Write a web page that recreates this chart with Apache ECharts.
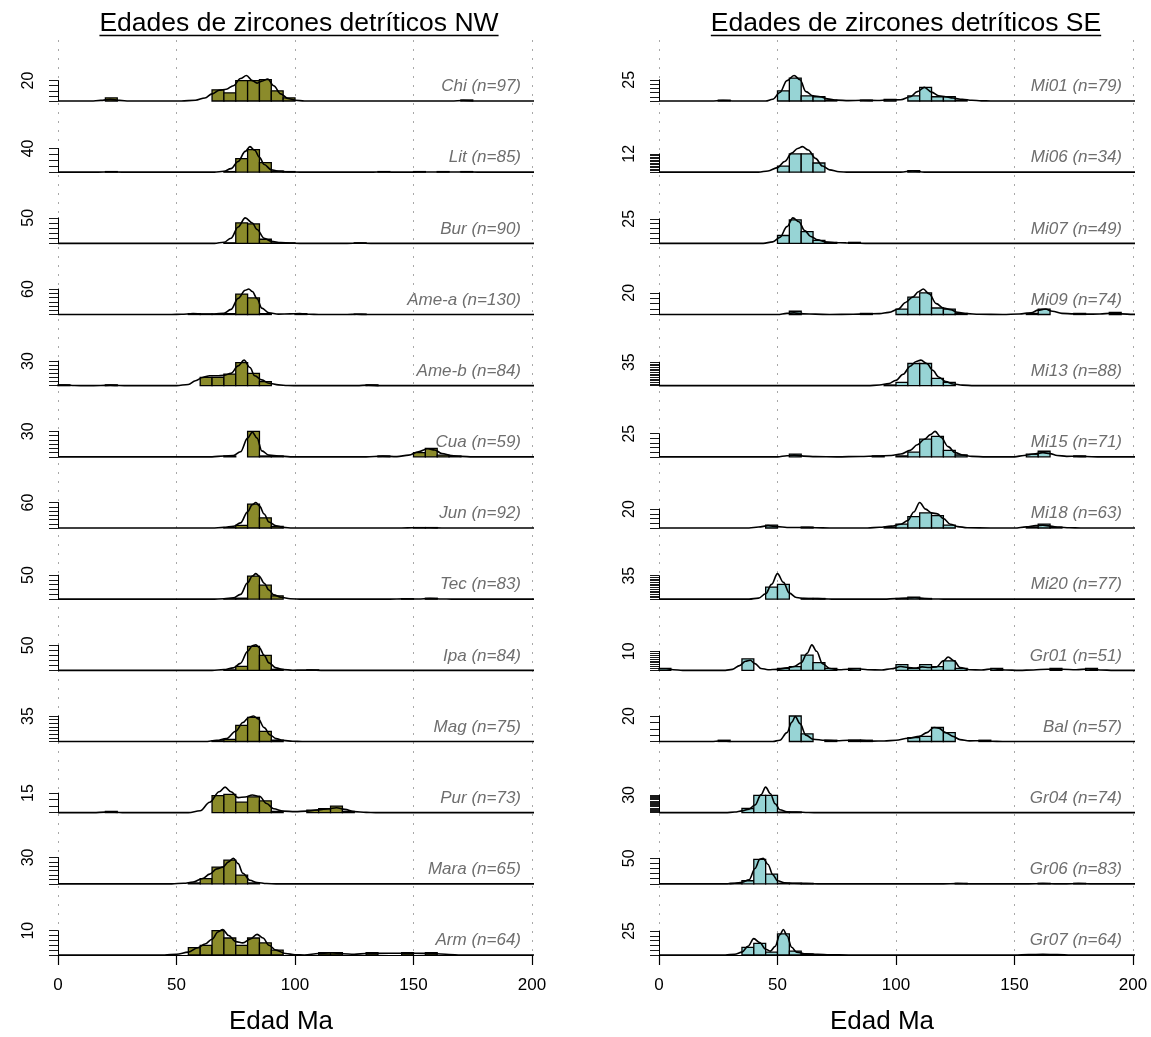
<!DOCTYPE html>
<html>
<head>
<meta charset="utf-8">
<script src="https://cdn.jsdelivr.net/npm/echarts@6/dist/echarts.min.js"></script>
<style>
  html, body { margin: 0; padding: 0; background: #fff; }
  #chart { width: 1151px; height: 1037px; }
</style>
</head>
<body>
<div id="chart"></div>
<script>
// ---- datos: [inicio del intervalo (Ma), nº de granos] y curva KDE [Ma, valor] ----
// NW
const chiBins = [[20,3],[65,11],[70,8],[75,20],[80,20],[85,21],[90,10],[95,3],[170,1]];
const chiKde = [[0,0],[14,0],[18,0.6],[22,1.6],[26,0.6],[30,0],[52,0],[58,0.8],[62,3],[65,7],[68,10.5],[71,11.5],[74,15],[77,22],[79.5,25],[82,20],[84,17.5],[86,19.5],[88.5,21.5],[91,15],[94,7],[97,2.5],[100,0.8],[104,0],[166,0],[171,0.5],[176,0],[205,0]];
const litBins = [[20,1],[70,1],[75,23],[80,38],[85,16],[90,2],[95,1],[135,1],[150,1],[160,1],[170,1]];
const litKde = [[0,0],[17,0],[22,0.5],[27,0],[66,0],[70,1.5],[73,6],[76,18],[79,35],[81,43],[83,37],[85,25],[87,13],[90,4],[93,1.5],[97,0.5],[102,0],[133,0],[137,0.5],[141,0],[150,0],[153,0.5],[157,0.3],[162,0.5],[166,0.2],[172,0.5],[177,0],[205,0]];
const burBins = [[70,1],[75,40],[80,38],[85,8],[90,1],[95,1],[125,1]];
const burKde = [[0,0],[66,0],[70,2],[73,10],[76,32],[79,50],[82,40],[84,27],[87,10],[90,4],[94,1.5],[98,0.3],[102,0],[122,0],[127,0.4],[132,0],[205,0]];
const ameaBins = [[55,2],[60,1],[65,1],[70,2],[75,48],[80,39],[85,2],[100,2],[125,1]];
const ameaKde = [[0,0],[48,0],[52,0.5],[57,2],[61,1],[66,1],[70,3],[73,12],[76,38],[79,57],[80.5,60],[82,54],[84,37],[86,15],[89,4],[93,1],[98,1.5],[102,2],[106,0.5],[110,0],[122,0],[126,0.7],[130,0],[205,0]];
const amebBins = [[0,1],[20,1],[60,10],[65,10],[70,14],[75,28],[80,15],[85,5],[130,1]];
const amebKde = [[0,0.7],[3,0.8],[7,0.2],[12,0],[18,0.2],[22,0.6],[26,0.2],[30,0],[50,0],[55,1.5],[58,6],[61,10],[64,12],[67,12],[70,12.5],[73,15],[76,24],[78.5,31],[81,22],[83,12],[86,7],[89,3],[93,1],[97,0.2],[102,0],[126,0],[131,0.6],[136,0],[205,0]];
const cuaBins = [[70,1],[80,30],[85,1],[90,1],[135,1],[150,5],[155,10],[160,2],[165,1]];
const cuaKde = [[0,0],[65,0],[70,1],[74,1.5],[77,6],[80,22],[82,29],[84,22],[86,7],[89,2],[93,1],[98,0],[130,0],[137,0.8],[143,0.3],[148,2],[152,6],[156,9.5],[159,8],[162,4],[166,1.5],[170,0.5],[175,0],[205,0]];
const junBins = [[70,1],[75,6],[80,56],[85,24],[90,4],[150,1],[155,1]];
const junKde = [[0,0],[65,0],[70,1.5],[74,4],[77,12],[80,38],[82,55],[83.5,60],[85,52],[87,33],[89,14],[92,5],[95,1.5],[99,0],[145,0],[150,0.6],[157,0.6],[162,0],[205,0]];
const tecBins = [[70,1],[75,2],[80,48],[85,29],[90,7],[145,1],[155,2]];
const tecKde = [[0,0],[65,0],[70,1],[74,3],[77,10],[80,34],[82,48],[83.5,53],[85,47],[87,33],[89,19],[91,9],[94,4],[98,1],[103,0],[140,0],[146,0.6],[152,0.4],[157,1.2],[162,0.4],[166,0],[205,0]];
const ipaBins = [[70,1],[75,8],[80,48],[85,30],[90,2],[105,1]];
const ipaKde = [[0,0],[65,0],[70,1.5],[74,5],[77,14],[80,38],[82,49],[83.5,51],[85,45],[87,30],[89,15],[92,5],[95,1.5],[99,0.3],[103,0.4],[107,0.6],[111,0],[205,0]];
const magBins = [[65,1],[70,3],[75,22],[80,33],[85,14],[90,2]];
const magKde = [[0,0],[62,0],[67,1.5],[71,4],[75,14],[78,26],[80.5,33],[82.5,35],[84.5,31],[87,19],[89.5,9],[92,4],[95,1.5],[99,0.3],[103,0],[205,0]];
const purBins = [[20,1],[65,13],[70,14],[75,8],[80,12],[85,9],[90,1],[105,2],[110,3],[115,5],[120,1]];
const purKde = [[0,0],[15,0],[20,0.4],[24,0.3],[28,0],[55,0],[60,1.5],[64,8],[68,16],[70.5,19.5],[73,16],[76,11.5],[79,12],[82,13.5],[85,12.5],[88,7],[91,3],[95,1.2],[100,0.8],[105,1.2],[110,2.2],[114,3],[117.5,3.8],[121,2.5],[125,0.8],[130,0.2],[134,0],[205,0]];
const maraBins = [[55,1],[60,6],[65,19],[70,27],[75,10],[80,1]];
const maraKde = [[0,0],[48,0],[53,0.6],[57,2],[61,6],[64,11],[67,17],[69.5,19],[72,25],[74,29],[76,23],[78,12],[81,4],[84,1.5],[88,0.3],[92,0],[205,0]];
const armBins = [[55,3],[60,4],[65,10],[70,7],[75,4],[80,7],[85,5],[90,2],[110,1],[115,1],[130,1],[145,1],[155,1]];
const armKde = [[0,0],[45,0],[50,0.3],[55,1.2],[59,3],[62,4.5],[65,6.5],[67.5,9.5],[69.5,10.5],[72,8],[75,5.5],[78,5],[81,6.5],[84,8.5],[86.5,7],[89,4],[92,2],[96,0.6],[100,0.1],[104,0],[110,0.6],[115,0.9],[120,0.5],[125,0.3],[130,0.6],[140,0.7],[150,0.7],[158,0.6],[165,0.2],[170,0],[205,0]];

// SE
const mi01Bins = [[25,1],[50,12],[55,27],[60,6],[65,5],[70,1],[85,1],[95,2],[105,6],[110,16],[115,5],[120,5],[125,1]];
const mi01Kde = [[0,0],[22,0],[27,0.5],[32,0],[45,0],[48,2],[51,10],[54,24],[57,30],[59.5,25],[62,11],[65,6],[68,5],[71,2.5],[75,1],[80,0.5],[86,0.8],[92,0.6],[97,1.2],[102,1.5],[106,5],[109,11],[112,16],[115,10.5],[118,6],[121,5],[124,3.5],[128,2],[132,0.8],[136,0.2],[140,0],[205,0]];
const mi06Bins = [[50,4],[55,12],[60,12],[65,6],[105,1]];
const mi06Kde = [[0,0],[42,0],[46,0.8],[50,3],[53,7],[56,12.5],[58.5,15.5],[60.5,16.7],[63,14.5],[66,9],[69,4],[72,1.5],[76,0.3],[80,0],[102,0],[107,0.8],[112,0],[205,0]];
const mi07Bins = [[50,8],[55,24],[60,12],[65,3],[70,1],[80,1]];
const mi07Kde = [[0,0],[44,0],[48,1.5],[51,6],[54,17],[56.5,26],[59,22],[61.5,13],[64,7],[67,3.5],[70,1.5],[74,0.6],[79,0.5],[83,0.3],[87,0],[205,0]];
const mi09Bins = [[55,3],[85,1],[100,5],[105,16],[110,20],[115,6],[120,5],[125,1],[155,1],[160,5],[175,1],[190,2]];
const mi09Kde = [[0,0],[50,0],[54,1],[57,1.5],[61,0.6],[66,0.3],[72,0],[82,0.2],[87,0.5],[93,0.8],[97,2],[101,5],[104,11],[107,16],[109.5,21],[111.5,23.5],[114,19],[117,10],[120,6],[123,4.5],[126,2],[130,0.8],[135,0.2],[145,0],[152,0.5],[157,1.5],[160,4],[163,5],[166,3],[170,1],[175,0.6],[180,0.3],[186,0.4],[191,1.2],[195,0.6],[200,0.1],[205,0]];
const mi13Bins = [[95,1],[100,5],[105,33],[110,33],[115,11],[120,5]];
const mi13Kde = [[0,0],[88,0],[93,1],[97,3],[100,8],[103,17],[106,29],[108.5,36],[110.5,38],[113,33],[115.5,23],[118,13],[121,6],[124,2.5],[128,0.8],[133,0],[205,0]];
const mi15Bins = [[55,3],[90,1],[100,1],[105,5],[110,19],[115,22],[120,7],[125,2],[155,3],[160,6],[175,1]];
const mi15Kde = [[0,0],[50,0],[54,1.2],[57,1.8],[61,0.8],[66,0.2],[75,0],[85,0.4],[92,0.8],[98,1.5],[102,3],[106,7],[109,13],[112,19],[114.5,24],[116.5,27.5],[119,21],[122,11],[125,4.5],[128,2],[132,0.5],[138,0],[150,0],[154,1.5],[158,3],[162,4.5],[165,3.5],[168,1.5],[172,0.5],[176,0.6],[180,0.3],[185,0],[205,0]];
const mi18Bins = [[45,3],[60,1],[95,1],[100,4],[105,12],[110,16],[115,13],[120,3],[155,1],[160,4],[165,1]];
const mi18Kde = [[0,0],[38,0],[42,1],[46,2.5],[50,1.5],[54,0.5],[60,0.6],[66,0.3],[72,0],[88,0],[93,0.8],[98,2],[102,4],[105,8],[107.5,17],[110,27],[112.5,20],[115,16],[117.5,15],[120,10],[123,4],[126,1.5],[130,0.3],[140,0],[150,0],[155,1.2],[159,2.5],[162,3],[165,2],[169,0.8],[173,0.2],[178,0],[205,0]];
const mi20Bins = [[45,18],[50,22],[60,1],[65,1],[100,1],[105,3],[110,1]];
const mi20Kde = [[0,0],[38,0],[42,1.5],[45,8],[47.5,22],[50,38],[52.5,25],[55,9],[58,2.5],[61,1.2],[65,1],[69,0.5],[74,0],[95,0],[100,0.8],[105,1.8],[108,2],[112,1],[116,0.3],[120,0],[205,0]];
const gr01Bins = [[0,1],[35,6],[50,1],[55,2],[60,8],[65,4],[70,1],[80,1],[100,3],[105,1],[110,3],[115,2],[120,5],[125,1],[140,1],[165,1],[180,1]];
const gr01Kde = [[0,0.8],[3,0.8],[6,0.3],[10,0],[28,0],[31,0.5],[34,2.5],[36.5,4.8],[38.5,5.3],[40.5,3.5],[43,1],[46,0.3],[50,0.5],[54,1.3],[57,2],[60,4],[62.5,9],[64.5,13.4],[66.5,10],[69,3.5],[72,1],[76,0.3],[80,0.6],[84,0.8],[88,0.3],[94,0.2],[98,0.8],[102,2],[105,1.5],[108,1.2],[111,1.8],[114,1.5],[117,1.8],[120,5],[122,7],[124.5,5],[127,1.5],[131,0.3],[136,0.2],[141,0.8],[146,0.2],[152,0],[158,0.2],[164,0.6],[170,0.6],[176,0.3],[181,0.7],[186,0.2],[192,0],[205,0]];
const balBins = [[25,1],[55,20],[60,6],[70,1],[80,1],[85,1],[105,3],[110,4],[115,11],[120,7],[135,1]];
const balKde = [[0,0],[22,0],[26,0.5],[31,0],[48,0],[51,1],[54,7],[56,15],[57.5,19.5],[59.5,14],[62,5],[65,1.8],[70,1],[75,0.6],[80,1],[85,0.9],[90,0.3],[95,0.4],[100,1],[105,2.5],[110,4],[113,7],[116,11],[118,10.5],[121,7],[124,4],[127,1.5],[131,0.5],[136,0.6],[140,0.2],[145,0],[205,0]];
const gr04Bins = [[35,7],[40,29],[45,29],[50,1],[55,1]];
const gr04Kde = [[0,0],[28,0],[32,1],[35,3],[38,6],[40.5,13],[43,30],[45,43],[47,32],[49,15],[51,5],[54,1.5],[58,1],[63,0.3],[68,0],[205,0]];
const gr06Bins = [[30,1],[35,6],[40,48],[45,19],[50,1],[55,1],[60,1],[125,1],[160,1],[175,1]];
const gr06Kde = [[0,0],[28,0],[32,1],[35,3],[38,8],[40.5,30],[42.5,48],[44,50],[46,38],[48,18],[50,6],[53,2],[57,1.2],[62,0.5],[67,0],[120,0],[126,0.5],[131,0],[156,0],[162,0.5],[167,0],[172,0],[177,0.5],[182,0],[205,0]];
const gr07Bins = [[35,8],[40,12],[45,3],[50,22],[55,4],[60,1]];
const gr07Kde = [[0,0],[28,0],[32,0.8],[35,3],[37.5,9],[40,17],[42.5,13],[45,6],[47,4],[49,9],[51,21],[52.5,26.5],[54,20],[56,8],[58,3],[62,1.2],[67,0.6],[72,0.2],[80,0],[150,0],[156,0.4],[162,0.7],[168,0.4],[174,0],[205,0]];

// etiquetas, máximo rotulado del eje y y separación de marcas
const nwNames = ['Chi (n=97)','Lit (n=85)','Bur (n=90)','Ame-a (n=130)','Ame-b (n=84)','Cua (n=59)','Jun (n=92)','Tec (n=83)','Ipa (n=84)','Mag (n=75)','Pur (n=73)','Mara (n=65)','Arm (n=64)'];
const nwTops = [20, 40, 50, 60, 30, 30, 60, 50, 50, 35, 15, 30, 10];
const nwSteps = [5, 10, 10, 10, 5, 5, 10, 10, 10, 5, 5, 5, 2];
const nwBins = [chiBins, litBins, burBins, ameaBins, amebBins, cuaBins, junBins, tecBins, ipaBins, magBins, purBins, maraBins, armBins];
const nwKde = [chiKde, litKde, burKde, ameaKde, amebKde, cuaKde, junKde, tecKde, ipaKde, magKde, purKde, maraKde, armKde];

const seNames = ['Mi01 (n=79)','Mi06 (n=34)','Mi07 (n=49)','Mi09 (n=74)','Mi13 (n=88)','Mi15 (n=71)','Mi18 (n=63)','Mi20 (n=77)','Gr01 (n=51)','Bal (n=57)','Gr04 (n=74)','Gr06 (n=83)','Gr07 (n=64)'];
const seTops = [25, 12, 25, 20, 35, 25, 20, 35, 10, 20, 30, 50, 25];
const seSteps = [5, 1, 5, 5, 2.5, 5, 5, 2.5, 1, 5, 2, 10, 5];
const seBins = [mi01Bins, mi06Bins, mi07Bins, mi09Bins, mi13Bins, mi15Bins, mi18Bins, mi20Bins, gr01Bins, balBins, gr04Bins, gr06Bins, gr07Bins];
const seKde = [mi01Kde, mi06Kde, mi07Kde, mi09Kde, mi13Kde, mi15Kde, mi18Kde, mi20Kde, gr01Kde, balKde, gr04Kde, gr06Kde, gr07Kde];

const xTicks = [0, 50, 100, 150, 200];

// ---- disposición ----
const FONT = '"Liberation Sans", Arial, Helvetica, sans-serif';
const BIN = 5;
const W = 474;                 // ancho de 0 a 200 Ma
const YGAP = 19;               // el eje y queda a la izquierda del 0
const XMIN = -YGAP * 200 / W;
const ROW0 = 101, ROWSTEP = (955 - 101) / 12;
const PEAK = 25.5;             // altura en px del máximo de cada fila

const panels = [
  { left: 58, title: 'Edades de zircones detríticos NW', titleX: 299, nameX: 281,
    names: nwNames, tops: nwTops, steps: nwSteps, bins: nwBins, kde: nwKde, color: '#8b8b2b' },
  { left: 659, title: 'Edades de zircones detríticos SE', titleX: 906, nameX: 882,
    names: seNames, tops: seTops, steps: seSteps, bins: seBins, kde: seKde, color: '#97d4d5' }
];

const ctx = document.createElement('canvas').getContext('2d');
ctx.font = '26.5px ' + FONT;

const grid = [], xAxis = [], yAxis = [], series = [], graphic = [];

panels.forEach((P, p) => {
  // rejilla de fondo con las líneas punteadas y el eje x
  const g = grid.length;
  grid.push({ left: P.left, top: 40, width: W, height: 955 - 40, outerBoundsMode: 'none' });
  xAxis.push({
    gridIndex: g, type: 'value', min: xTicks[0], max: xTicks[xTicks.length - 1], interval: 50,
    axisLine: { onZero: false, lineStyle: { color: '#000', width: 1.2 } },
    axisTick: { length: 10, lineStyle: { color: '#000', width: 1.2 } },
    axisLabel: { fontSize: 17, color: '#000', margin: 22, fontFamily: FONT },
    splitLine: { show: true, lineStyle: { color: '#a8a8a8', width: 1, type: [2, 7] } }
  });
  yAxis.push({ gridIndex: g, type: 'value', min: 0, max: 1, show: false });

  P.names.forEach((name, i) => {
    const bins = P.bins[i], kde = P.kde[i], top = P.tops[i];
    const peak = Math.max(...bins.map(d => d[1]), ...kde.map(d => d[1]));
    const span = PEAK * top / peak;
    const base = ROW0 + i * ROWSTEP;
    const k = grid.length;
    grid.push({ left: P.left - YGAP, top: base - span, width: W + YGAP, height: span, outerBoundsMode: 'none' });
    xAxis.push({ gridIndex: k, type: 'value', min: XMIN, max: 200, show: false });
    yAxis.push({
      gridIndex: k, type: 'value', min: 0, max: top, interval: P.steps[i],
      axisLine: { show: true, lineStyle: { color: '#000', width: 1 } },
      axisTick: { show: true, length: 9, lineStyle: { color: '#000', width: 0.9 } },
      axisLabel: {
        rotate: 90, fontSize: 16, margin: 2, color: '#000', fontFamily: FONT,
        formatter: v => (Math.abs(v - top) < 1e-6 ? String(top) : '')
      },
      splitLine: { show: false }
    });
    series.push({
      type: 'custom', xAxisIndex: k, yAxisIndex: k, data: bins, clip: false, silent: true, z: 2,
      renderItem: (params, api) => {
        const x0 = api.value(0), c = api.value(1);
        const a = api.coord([x0, 0]), b = api.coord([x0 + BIN, c]);
        return {
          type: 'rect',
          shape: { x: a[0], y: b[1], width: b[0] - a[0], height: a[1] - b[1] },
          style: { fill: P.color, stroke: '#000', lineWidth: 1.3 }
        };
      }
    });
    series.push({
      type: 'line', xAxisIndex: k, yAxisIndex: k, data: kde, clip: false, silent: true, z: 3,
      smooth: 0.35, smoothMonotone: 'x', showSymbol: false, symbol: 'none',
      lineStyle: { color: '#000', width: 1.6 }
    });
    graphic.push({
      type: 'text', x: P.left + 463, y: base - 14.5, silent: true,
      style: { text: name, fontSize: 17, fontStyle: 'italic', fontFamily: FONT, fill: '#6e6e6e',
               align: 'right', verticalAlign: 'middle' }
    });
  });

  // título subrayado
  const tw = ctx.measureText(P.title).width;
  graphic.push({
    type: 'text', x: P.titleX, y: 24, silent: true,
    style: { text: P.title, fontSize: 26.5, fontFamily: FONT, fill: '#000', align: 'center', verticalAlign: 'middle' }
  });
  graphic.push({
    type: 'line', silent: true,
    shape: { x1: P.titleX - tw / 2, y1: 35.5, x2: P.titleX + tw / 2, y2: 35.5 },
    style: { stroke: '#000', lineWidth: 1.5 }
  });
  graphic.push({
    type: 'text', x: P.nameX, y: 1022, silent: true,
    style: { text: 'Edad Ma', fontSize: 26, fontFamily: FONT, fill: '#000', align: 'center', verticalAlign: 'middle' }
  });
});

const chart = echarts.init(document.getElementById('chart'), null, { renderer: 'canvas' });
chart.setOption({
  animation: false,
  backgroundColor: '#fff',
  grid, xAxis, yAxis, series, graphic
});
</script>
</body>
</html>
